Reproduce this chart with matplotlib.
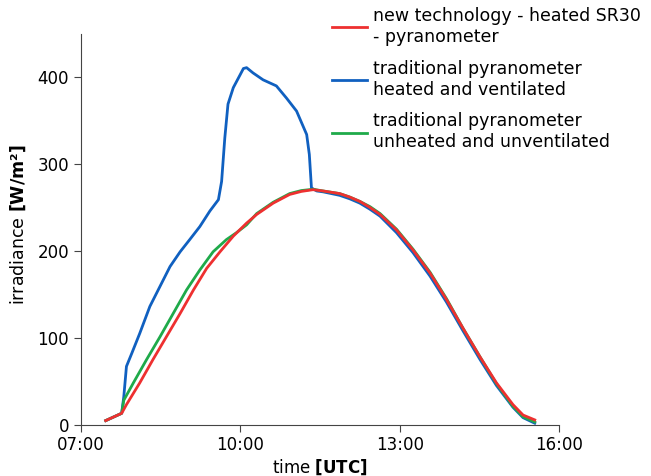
import matplotlib
matplotlib.use("Agg")
import matplotlib.pyplot as plt
from matplotlib.ticker import FuncFormatter

# time in decimal hours (UTC), irradiance in W/m2
t_red = [7.47, 7.77, 7.86, 8.11, 8.36, 8.61, 8.87, 9.12, 9.37, 9.62, 9.87, 10.12,
         10.31, 10.62, 10.93, 11.15, 11.37, 11.56, 11.87, 12.06, 12.25, 12.44, 12.63,
         12.94, 13.25, 13.57, 13.88, 14.19, 14.51, 14.82, 15.13, 15.32, 15.54]
v_red = [4.6, 13, 23, 48, 75, 101, 128, 155, 180, 199, 217, 232,
         242, 255, 265, 268.5, 270.5, 269, 266, 262, 257, 250, 242,
         224, 201, 174.5, 144, 111, 78, 48, 23, 11, 5.4]

t_green = [7.47, 7.77, 7.81, 7.99, 8.24, 8.49, 8.74, 8.99, 9.24, 9.49, 9.74, 9.93, 10.12,
           10.31, 10.62, 10.93, 11.15, 11.37, 11.56, 11.87, 12.06, 12.25, 12.44, 12.63,
           12.94, 13.25, 13.57, 13.88, 14.19, 14.51, 14.82, 15.13, 15.32, 15.54]
v_green = [4.6, 13, 28, 48, 75, 101, 128, 155, 178, 199, 213, 221, 230,
           243, 256, 266, 269.5, 271, 269, 266, 262, 257, 251, 243,
           225, 202, 175.5, 145, 111, 78, 47, 21, 9, 3]

t_blue = [7.47, 7.77, 7.81, 7.86, 7.96, 8.11, 8.30, 8.49, 8.68, 8.87, 9.05, 9.24, 9.43,
          9.59, 9.65, 9.71, 9.77, 9.87, 10.0, 10.06, 10.12, 10.24, 10.43, 10.68, 10.87, 11.06,
          11.25, 11.30, 11.34, 11.44, 11.56, 11.87, 12.06, 12.25, 12.44, 12.63, 12.94,
          13.25, 13.57, 13.88, 14.19, 14.51, 14.82, 15.13, 15.32, 15.54]
v_blue = [4.6, 13, 32, 67, 82, 105, 136, 159, 182, 199, 213, 228, 246,
          259, 280, 330, 369, 388, 403, 410, 411, 405, 397, 390, 376, 361,
          334, 311, 272.5, 269, 268, 264, 260, 255, 248, 240, 221,
          198, 171, 141, 108, 75, 45, 20, 8, 1.6]

labels = ["new technology - heated SR30\n- pyranometer",
          "traditional pyranometer\nheated and ventilated",
          "traditional pyranometer\nunheated and unventilated"]
xticks = [7, 10, 13, 16]

fig = plt.figure(figsize=(6.51, 4.76), dpi=100)
ax = fig.add_axes([0.124, 0.108, 0.735, 0.821])

lb, = ax.plot(t_blue, v_blue, color='#1060c0', lw=2)
lg, = ax.plot(t_green, v_green, color='#1faa4a', lw=2)
lr, = ax.plot(t_red, v_red, color='#ee3030', lw=2)

ax.set_xlim(7, 16)
ax.set_ylim(0, 450)
ax.set_xticks(xticks)
ax.set_yticks([0, 100, 200, 300, 400])
ax.xaxis.set_major_formatter(FuncFormatter(lambda x, p: "%02d:00" % int(round(x))))
ax.tick_params(labelsize=12, length=5, color='#444444')
for s in ['top', 'right']:
    ax.spines[s].set_visible(False)
for s in ['left', 'bottom']:
    ax.spines[s].set_color('#444444')

ax.set_xlabel(r"time $\mathbf{[UTC]}$", fontsize=12, labelpad=2)
ax.set_ylabel(r"irradiance $\mathbf{[W/m²]}$", fontsize=12.5)
ax.yaxis.set_label_coords(-0.11, 0.511)

fig.legend([lr, lb, lg], labels, loc='upper left', bbox_to_anchor=(0.486, 1.018),
           frameon=False, fontsize=12.5, handlelength=2.0, handletextpad=0.35,
           labelspacing=0.8)

fig.savefig("out.png", dpi=100)
